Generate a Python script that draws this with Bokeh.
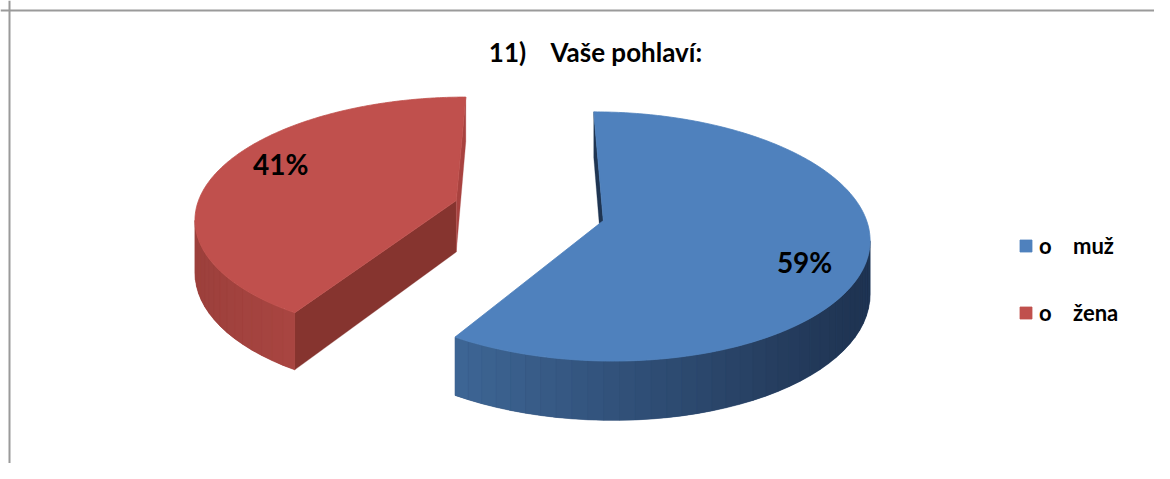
import numpy as np
from bokeh.plotting import figure
from bokeh.models import ColumnDataSource, Range1d, Label, Legend, LegendItem, Span
from bokeh.core.properties import value
from bokeh.embed import file_html
from bokeh.resources import INLINE

# ---------------- data ----------------
categories = ["o\u00a0\u00a0\u00a0\u00a0muž", "o\u00a0\u00a0\u00a0\u00a0žena"]
shares = [59, 41]
pct_labels = ["59%", "41%"]
title_text = "11)\u00a0\u00a0\u00a0\u00a0Vaše pohlaví:"

# ---------------- style ----------------
top_colors = ["#4F81BD", "#C0504D"]
side_left = ["#3E6695", "#9C403C"]
side_right = ["#1E3250", "#A94541"]
cut_high = ["#1F3552", "#86342F"]   # face on the slice's counter-clockwise edge
cut_low = ["#1F3552", "#A8423F"]    # face on the slice's clockwise edge
FONT = "Lato"

CX, CY = 528.5, 210.0
RX, RY = 260.5, 122.0
K = 0.13
DEPTH = 52.0
EXPLODE = 0.294
LABEL_R = 0.79
LABEL_SHIFT = -7.5
STRIP_DEG = 3.0

W, H = 1154, 463


def proj(U, V, z):
    f = 1 - K * V
    return CX + RX * U * f, CY - RY * V * f + DEPTH * z * f


def area(xs, ys):
    s = 0.0
    n = len(xs)
    for i in range(n):
        j = (i + 1) % n
        s += xs[i] * ys[j] - xs[j] * ys[i]
    return s / 2


def mix(c1, c2, t):
    a = [int(c1[i:i + 2], 16) for i in (1, 3, 5)]
    b = [int(c2[i:i + 2], 16) for i in (1, 3, 5)]
    return "#%02x%02x%02x" % tuple(int(round(a[k] + (b[k] - a[k]) * t)) for k in range(3))


p = figure(width=W, height=H, x_range=Range1d(0, W), y_range=Range1d(H, 0),
           x_axis_type=None, y_axis_type=None, min_border=0,
           toolbar_location=None, output_backend="svg")
p.grid.visible = False
p.outline_line_color = None
p.background_fill_color = "white"

p.add_layout(Span(location=10, dimension="width", line_color="#9a9a9a", line_width=2))
p.add_layout(Span(location=9, dimension="height", line_color="#9a9a9a", line_width=2))

# slice angles
slices = []
cum = 0
for i, s in enumerate(shares):
    a_high = 90 - cum * 3.6
    a_low = a_high - s * 3.6
    cum += s
    b = np.radians((a_low + a_high) / 2)
    slices.append(dict(i=i, a_low=a_low, a_high=a_high,
                       ou=EXPLODE * np.cos(b), ov=EXPLODE * np.sin(b), b=b))

order = sorted(slices, key=lambda d: -np.sin(d["b"]))
top_renderers = {}
label_x, label_y = [], []

for sl in order:
    i = sl["i"]
    ou, ov = sl["ou"], sl["ov"]
    xs_l, ys_l, cs_l = [], [], []
    # cut faces
    for edge, col, sign in ((sl["a_high"], cut_high[i], -1), (sl["a_low"], cut_low[i], 1)):
        a = np.radians(edge)
        pts = [(ou, ov, 0), (ou + np.cos(a), ov + np.sin(a), 0),
               (ou + np.cos(a), ov + np.sin(a), 1), (ou, ov, 1)]
        xy = [proj(*q) for q in pts]
        xx = [q[0] for q in xy]
        yy = [q[1] for q in xy]
        if area(xx, yy) * sign > 0:
            xs_l.append(xx); ys_l.append(yy); cs_l.append(col)
    # curved wall
    th_fine = np.radians(np.linspace(sl["a_low"], sl["a_high"], 481))
    vis = []
    for j in range(len(th_fine) - 1):
        u0, v0 = ou + np.cos(th_fine[j]), ov + np.sin(th_fine[j])
        u1, v1 = ou + np.cos(th_fine[j + 1]), ov + np.sin(th_fine[j + 1])
        xy = [proj(u0, v0, 0), proj(u1, v1, 0), proj(u1, v1, 1), proj(u0, v0, 1)]
        if area([q[0] for q in xy], [q[1] for q in xy]) > 0:
            vis.append(j)
    if vis:
        t0, t1 = th_fine[vis[0]], th_fine[vis[-1] + 1]
        n = max(int(np.degrees(t1 - t0) / STRIP_DEG), 1)
        tw = np.linspace(t0, t1, n + 1)
        top_pts = [proj(ou + np.cos(t), ov + np.sin(t), 0) for t in tw]
        bot_pts = [proj(ou + np.cos(t), ov + np.sin(t), 1) for t in tw]
        xmin = min(q[0] for q in top_pts)
        xmax = max(q[0] for q in top_pts)
        # backing polygon for whole wall
        xs_l.append([q[0] for q in top_pts] + [q[0] for q in reversed(bot_pts)])
        ys_l.append([q[1] for q in top_pts] + [q[1] for q in reversed(bot_pts)])
        cs_l.append(mix(side_left[i], side_right[i], 0.5))
        for j in range(n):
            xx = [top_pts[j][0], top_pts[j + 1][0], bot_pts[j + 1][0], bot_pts[j][0]]
            yy = [top_pts[j][1], top_pts[j + 1][1], bot_pts[j + 1][1], bot_pts[j][1]]
            t = (np.mean(xx) - xmin) / max(xmax - xmin, 1)
            xs_l.append(xx); ys_l.append(yy); cs_l.append(mix(side_left[i], side_right[i], t))
    if xs_l:
        src = ColumnDataSource(dict(xs=xs_l, ys=ys_l, c=cs_l))
        p.patches("xs", "ys", source=src, fill_color="c", line_color="c", line_width=0.3)
    # top face
    th = np.radians(np.linspace(sl["a_low"], sl["a_high"], 241))
    tx = [proj(ou, ov, 0)[0]] + [proj(ou + np.cos(t), ov + np.sin(t), 0)[0] for t in th]
    ty = [proj(ou, ov, 0)[1]] + [proj(ou + np.cos(t), ov + np.sin(t), 0)[1] for t in th]
    tsrc = ColumnDataSource(dict(xs=[tx], ys=[ty]))
    r = p.patches("xs", "ys", source=tsrc, fill_color=top_colors[i],
                  line_color=top_colors[i], line_width=0.8)
    top_renderers[i] = r

# percentage labels
for sl in slices:
    a = sl["b"] + np.radians(LABEL_SHIFT)
    x, y = proj(sl["ou"] + LABEL_R * np.cos(a), sl["ov"] + LABEL_R * np.sin(a), 0)
    label_x.append(x)
    label_y.append(y)
lsrc = ColumnDataSource(dict(x=label_x, y=label_y, t=pct_labels))
p.text("x", "y", text="t", source=lsrc, text_font=value(FONT), text_font_style="bold",
       text_font_size="28px", text_align="center", text_baseline="middle",
       text_color="black")

p.add_layout(Label(x=595, y=51, text=title_text, text_font=FONT, text_font_style="bold",
                   text_font_size="26px", text_align="center", text_baseline="middle",
                   text_color="black"))

legend = Legend(items=[LegendItem(label=categories[k], renderers=[top_renderers[k]])
                       for k in range(len(categories))],
                location=(1018, 137), orientation="vertical",
                glyph_width=15, glyph_height=15, label_height=20, spacing=40,
                label_standoff=6, padding=0, margin=0,
                label_text_font=FONT, label_text_font_style="bold",
                label_text_font_size="22px", label_text_color="black",
                border_line_color=None, background_fill_alpha=0)
p.add_layout(legend, "center")

open("out.html", "w").write(file_html(p, INLINE))
